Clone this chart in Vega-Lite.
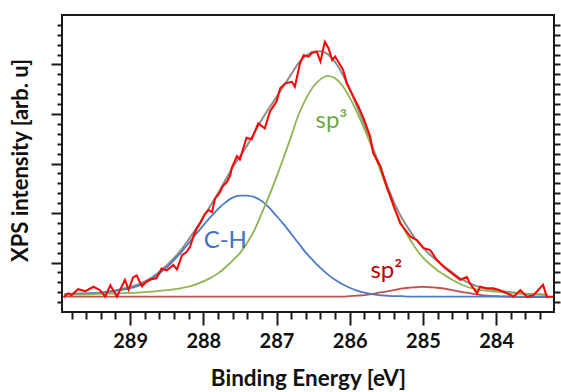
{
  "$schema": "https://vega.github.io/schema/vega-lite/v6.json",
  "width": 492,
  "height": 297,
  "autosize": "none",
  "padding": {"left": 62, "top": 15, "right": 7, "bottom": 80},
  "config": {
    "view": {"stroke": "#1a1a1a", "strokeWidth": 2},
    "font": "Lato"
  },
  "datasets": {
    "curves": [
      {"E": 289.9, "ch": 0.36, "sp3": 0.35, "sp2": 0.31, "total": 0.36},
      {"E": 289.7, "ch": 0.37, "sp3": 0.35, "sp2": 0.31, "total": 0.37},
      {"E": 289.5, "ch": 0.38, "sp3": 0.36, "sp2": 0.31, "total": 0.38},
      {"E": 289.3, "ch": 0.40, "sp3": 0.37, "sp2": 0.31, "total": 0.41},
      {"E": 289.1, "ch": 0.45, "sp3": 0.38, "sp2": 0.31, "total": 0.47},
      {"E": 288.9, "ch": 0.52, "sp3": 0.39, "sp2": 0.31, "total": 0.55},
      {"E": 288.7, "ch": 0.67, "sp3": 0.41, "sp2": 0.31, "total": 0.70},
      {"E": 288.5, "ch": 0.90, "sp3": 0.44, "sp2": 0.31, "total": 0.94},
      {"E": 288.3, "ch": 1.21, "sp3": 0.48, "sp2": 0.31, "total": 1.26},
      {"E": 288.1, "ch": 1.57, "sp3": 0.56, "sp2": 0.31, "total": 1.68},
      {"E": 287.9, "ch": 1.92, "sp3": 0.69, "sp2": 0.31, "total": 2.15},
      {"E": 287.8, "ch": 2.08, "sp3": 0.78, "sp2": 0.31, "total": 2.40},
      {"E": 287.7, "ch": 2.21, "sp3": 0.90, "sp2": 0.31, "total": 2.66},
      {"E": 287.6, "ch": 2.31, "sp3": 1.04, "sp2": 0.31, "total": 2.92},
      {"E": 287.5, "ch": 2.35, "sp3": 1.19, "sp2": 0.31, "total": 3.14},
      {"E": 287.4, "ch": 2.35, "sp3": 1.40, "sp2": 0.31, "total": 3.37},
      {"E": 287.3, "ch": 2.32, "sp3": 1.66, "sp2": 0.31, "total": 3.62},
      {"E": 287.2, "ch": 2.24, "sp3": 2.00, "sp2": 0.31, "total": 3.89},
      {"E": 287.1, "ch": 2.11, "sp3": 2.35, "sp2": 0.31, "total": 4.12},
      {"E": 287.0, "ch": 1.94, "sp3": 2.73, "sp2": 0.31, "total": 4.34},
      {"E": 286.9, "ch": 1.77, "sp3": 3.13, "sp2": 0.31, "total": 4.57},
      {"E": 286.8, "ch": 1.58, "sp3": 3.55, "sp2": 0.31, "total": 4.80},
      {"E": 286.7, "ch": 1.39, "sp3": 3.98, "sp2": 0.31, "total": 5.03},
      {"E": 286.6, "ch": 1.20, "sp3": 4.30, "sp2": 0.31, "total": 5.17},
      {"E": 286.5, "ch": 1.04, "sp3": 4.55, "sp2": 0.31, "total": 5.26},
      {"E": 286.4, "ch": 0.89, "sp3": 4.70, "sp2": 0.31, "total": 5.27},
      {"E": 286.3, "ch": 0.76, "sp3": 4.77, "sp2": 0.31, "total": 5.21},
      {"E": 286.2, "ch": 0.65, "sp3": 4.72, "sp2": 0.31, "total": 5.05},
      {"E": 286.1, "ch": 0.56, "sp3": 4.57, "sp2": 0.31, "total": 4.81},
      {"E": 286.0, "ch": 0.49, "sp3": 4.33, "sp2": 0.32, "total": 4.50},
      {"E": 285.9, "ch": 0.43, "sp3": 4.03, "sp2": 0.33, "total": 4.15},
      {"E": 285.8, "ch": 0.39, "sp3": 3.70, "sp2": 0.34, "total": 3.78},
      {"E": 285.7, "ch": 0.36, "sp3": 3.33, "sp2": 0.36, "total": 3.38},
      {"E": 285.6, "ch": 0.34, "sp3": 2.93, "sp2": 0.39, "total": 2.99},
      {"E": 285.5, "ch": 0.33, "sp3": 2.53, "sp2": 0.41, "total": 2.60},
      {"E": 285.4, "ch": 0.32, "sp3": 2.13, "sp2": 0.44, "total": 2.23},
      {"E": 285.3, "ch": 0.32, "sp3": 1.79, "sp2": 0.47, "total": 1.93},
      {"E": 285.2, "ch": 0.31, "sp3": 1.52, "sp2": 0.49, "total": 1.69},
      {"E": 285.1, "ch": 0.31, "sp3": 1.29, "sp2": 0.50, "total": 1.47},
      {"E": 285.0, "ch": 0.31, "sp3": 1.10, "sp2": 0.51, "total": 1.30},
      {"E": 284.9, "ch": 0.31, "sp3": 0.96, "sp2": 0.50, "total": 1.15},
      {"E": 284.8, "ch": 0.31, "sp3": 0.84, "sp2": 0.49, "total": 1.03},
      {"E": 284.7, "ch": 0.31, "sp3": 0.74, "sp2": 0.47, "total": 0.91},
      {"E": 284.6, "ch": 0.31, "sp3": 0.65, "sp2": 0.44, "total": 0.80},
      {"E": 284.5, "ch": 0.31, "sp3": 0.57, "sp2": 0.41, "total": 0.69},
      {"E": 284.4, "ch": 0.31, "sp3": 0.51, "sp2": 0.39, "total": 0.61},
      {"E": 284.2, "ch": 0.31, "sp3": 0.44, "sp2": 0.34, "total": 0.49},
      {"E": 284.0, "ch": 0.31, "sp3": 0.41, "sp2": 0.32, "total": 0.44},
      {"E": 283.8, "ch": 0.31, "sp3": 0.38, "sp2": 0.31, "total": 0.40},
      {"E": 283.6, "ch": 0.31, "sp3": 0.36, "sp2": 0.30, "total": 0.37},
      {"E": 283.4, "ch": 0.31, "sp3": 0.35, "sp2": 0.30, "total": 0.36},
      {"E": 283.3, "ch": 0.31, "sp3": 0.34, "sp2": 0.30, "total": 0.35}
    ],
    "spectrum": [
      {"E": 289.91, "I": 0.30}, {"E": 289.84, "I": 0.38}, {"E": 289.80, "I": 0.34},
      {"E": 289.71, "I": 0.46}, {"E": 289.61, "I": 0.42}, {"E": 289.50, "I": 0.51},
      {"E": 289.41, "I": 0.44}, {"E": 289.34, "I": 0.31}, {"E": 289.27, "I": 0.54},
      {"E": 289.18, "I": 0.31}, {"E": 289.07, "I": 0.65}, {"E": 289.02, "I": 0.45},
      {"E": 288.96, "I": 0.70}, {"E": 288.91, "I": 0.74}, {"E": 288.84, "I": 0.52},
      {"E": 288.77, "I": 0.62}, {"E": 288.71, "I": 0.66}, {"E": 288.64, "I": 0.68},
      {"E": 288.57, "I": 0.88}, {"E": 288.50, "I": 0.84}, {"E": 288.41, "I": 0.95},
      {"E": 288.36, "I": 0.86}, {"E": 288.29, "I": 1.15}, {"E": 288.23, "I": 1.21},
      {"E": 288.18, "I": 1.32}, {"E": 288.13, "I": 1.55}, {"E": 288.09, "I": 1.68},
      {"E": 288.04, "I": 1.80}, {"E": 287.98, "I": 1.98}, {"E": 287.93, "I": 2.06},
      {"E": 287.88, "I": 2.02}, {"E": 287.84, "I": 2.29}, {"E": 287.78, "I": 2.40},
      {"E": 287.73, "I": 2.55}, {"E": 287.68, "I": 2.62}, {"E": 287.63, "I": 2.77},
      {"E": 287.61, "I": 2.92}, {"E": 287.54, "I": 3.15}, {"E": 287.50, "I": 3.08},
      {"E": 287.41, "I": 3.52}, {"E": 287.34, "I": 3.49}, {"E": 287.25, "I": 3.81},
      {"E": 287.16, "I": 3.71}, {"E": 287.09, "I": 4.05}, {"E": 287.00, "I": 4.25},
      {"E": 286.95, "I": 4.52}, {"E": 286.88, "I": 4.62}, {"E": 286.79, "I": 4.65},
      {"E": 286.75, "I": 4.55}, {"E": 286.68, "I": 5.02}, {"E": 286.63, "I": 5.19},
      {"E": 286.56, "I": 5.16}, {"E": 286.52, "I": 5.23}, {"E": 286.45, "I": 5.26},
      {"E": 286.40, "I": 5.06}, {"E": 286.36, "I": 5.33}, {"E": 286.34, "I": 5.46},
      {"E": 286.29, "I": 5.33}, {"E": 286.24, "I": 5.09}, {"E": 286.20, "I": 5.16},
      {"E": 286.13, "I": 4.99}, {"E": 286.09, "I": 4.89}, {"E": 286.04, "I": 4.62},
      {"E": 285.95, "I": 4.35}, {"E": 285.88, "I": 4.15}, {"E": 285.81, "I": 3.91},
      {"E": 285.72, "I": 3.54}, {"E": 285.68, "I": 3.21}, {"E": 285.58, "I": 2.94},
      {"E": 285.49, "I": 2.50}, {"E": 285.44, "I": 2.32}, {"E": 285.39, "I": 2.10},
      {"E": 285.35, "I": 1.95}, {"E": 285.31, "I": 1.79}, {"E": 285.17, "I": 1.52},
      {"E": 285.08, "I": 1.45}, {"E": 284.99, "I": 1.29}, {"E": 284.90, "I": 1.25},
      {"E": 284.81, "I": 1.05}, {"E": 284.72, "I": 0.92}, {"E": 284.63, "I": 0.81},
      {"E": 284.49, "I": 0.65}, {"E": 284.40, "I": 0.71}, {"E": 284.36, "I": 0.58},
      {"E": 284.26, "I": 0.38}, {"E": 284.22, "I": 0.51}, {"E": 284.13, "I": 0.48},
      {"E": 284.04, "I": 0.48}, {"E": 283.95, "I": 0.44}, {"E": 283.86, "I": 0.38},
      {"E": 283.76, "I": 0.31}, {"E": 283.67, "I": 0.44}, {"E": 283.58, "I": 0.31},
      {"E": 283.49, "I": 0.34}, {"E": 283.36, "I": 0.55}, {"E": 283.31, "I": 0.31},
      {"E": 283.22, "I": 0.31}
    ],
    "labels": [
      {"E": 287.70, "v": 1.29, "label": "C-H"},
      {"E": 286.25, "v": 3.72, "label": "sp³"},
      {"E": 285.50, "v": 0.69, "label": "sp²"}
    ]
  },
  "resolve": {"axis": {"x": "independent", "y": "independent"}},
  "layer": [
    {
      "data": {"name": "curves"},
      "mark": {"type": "line", "color": "#8c8c8c", "strokeWidth": 2, "interpolate": "monotone"},
      "encoding": {
        "x": {"field": "E", "type": "quantitative",
              "scale": {"domain": [283.21, 289.93], "reverse": true, "nice": false, "zero": false},
              "axis": {"orient": "bottom", "values": [284, 285, 286, 287, 288, 289], "domain": false, "grid": false,
                       "tickSize": 13, "tickWidth": 2, "tickColor": "#1a1a1a",
                       "labelFont": "Lato", "labelFontSize": 20, "labelFontWeight": "bold", "labelColor": "#111",
                       "labelPadding": 6,
                       "title": "Binding Energy [eV]", "titleFont": "Lato", "titleFontSize": 22.5, "titleFontWeight": "bold",
                       "titleColor": "#111", "titleY": 73, "titleBaseline": "alphabetic"}},
        "y": {"field": "total", "type": "quantitative",
              "scale": {"domain": [0, 6], "nice": false, "zero": false},
              "axis": {"orient": "left", "values": [1, 2, 3, 4, 5], "domain": false, "grid": false,
                       "tickSize": 11, "tickWidth": 2, "tickColor": "#1a1a1a", "labels": false,
                       "title": "XPS intensity [arb. u]", "titleFont": "Lato", "titleFontSize": 22, "titleFontWeight": "bold",
                       "titleColor": "#111", "titleX": -35, "titleY": 145, "titleBaseline": "alphabetic"}}
      }
    },
    {
      "data": {"name": "curves"},
      "mark": {"type": "line", "color": "#c0504d", "strokeWidth": 1.8, "interpolate": "monotone"},
      "encoding": {
        "x": {"field": "E", "type": "quantitative",
              "axis": {"orient": "bottom", "domain": false, "grid": false, "labels": false, "title": null,
                       "tickSize": 7, "tickWidth": 2, "tickColor": "#1a1a1a",
                       "values": [289.8, 289.6, 289.4, 289.2, 288.8, 288.6, 288.4, 288.2, 287.8, 287.6, 287.4, 287.2, 286.8, 286.6, 286.4, 286.2, 285.8, 285.6, 285.4, 285.2, 284.8, 284.6, 284.4, 284.2, 283.8, 283.6, 283.4]}},
        "y": {"field": "sp2", "type": "quantitative",
              "axis": {"orient": "left", "domain": false, "grid": false, "labels": false, "title": null,
                       "tickSize": 5, "tickWidth": 2, "tickColor": "#1a1a1a",
                       "values": [0.2, 0.4, 0.6, 0.8, 1.2, 1.4, 1.6, 1.8, 2.2, 2.4, 2.6, 2.8, 3.2, 3.4, 3.6, 3.8, 4.2, 4.4, 4.6, 4.8, 5.2, 5.4, 5.6, 5.8]}}
      }
    },
    {
      "data": {"name": "curves"},
      "mark": {"type": "line", "color": "#4a7cc6", "strokeWidth": 1.8, "interpolate": "monotone"},
      "encoding": {
        "x": {"field": "E", "type": "quantitative", "axis": null},
        "y": {"field": "ch", "type": "quantitative",
              "axis": {"orient": "right", "domain": false, "grid": false, "labels": false, "title": null,
                       "tickSize": 6, "tickWidth": 2, "tickColor": "#1a1a1a",
                       "values": [0.2, 0.4, 0.6, 0.8, 1, 1.2, 1.4, 1.6, 1.8, 2, 2.2, 2.4, 2.6, 2.8, 3, 3.2, 3.4, 3.6, 3.8, 4, 4.2, 4.4, 4.6, 4.8, 5, 5.2, 5.4, 5.6, 5.8]}}
      }
    },
    {
      "data": {"name": "curves"},
      "mark": {"type": "line", "color": "#8db552", "strokeWidth": 1.8, "interpolate": "monotone"},
      "encoding": {
        "x": {"field": "E", "type": "quantitative", "axis": null},
        "y": {"field": "sp3", "type": "quantitative", "axis": null}
      }
    },
    {
      "data": {"name": "spectrum"},
      "mark": {"type": "line", "color": "#ff0000", "strokeWidth": 2},
      "encoding": {
        "x": {"field": "E", "type": "quantitative", "axis": null},
        "y": {"field": "I", "type": "quantitative", "axis": null}
      }
    },
    {
      "data": {"name": "labels"},
      "mark": {"type": "text", "font": "Lato", "fontSize": 24, "align": "center", "baseline": "alphabetic"},
      "encoding": {
        "x": {"field": "E", "type": "quantitative", "axis": null},
        "y": {"field": "v", "type": "quantitative", "axis": null},
        "text": {"field": "label"},
        "color": {"field": "label", "type": "nominal", "legend": null,
                  "scale": {"domain": ["C-H", "sp³", "sp²"], "range": ["#4472c4", "#70a843", "#c00000"]}}
      }
    }
  ]
}
